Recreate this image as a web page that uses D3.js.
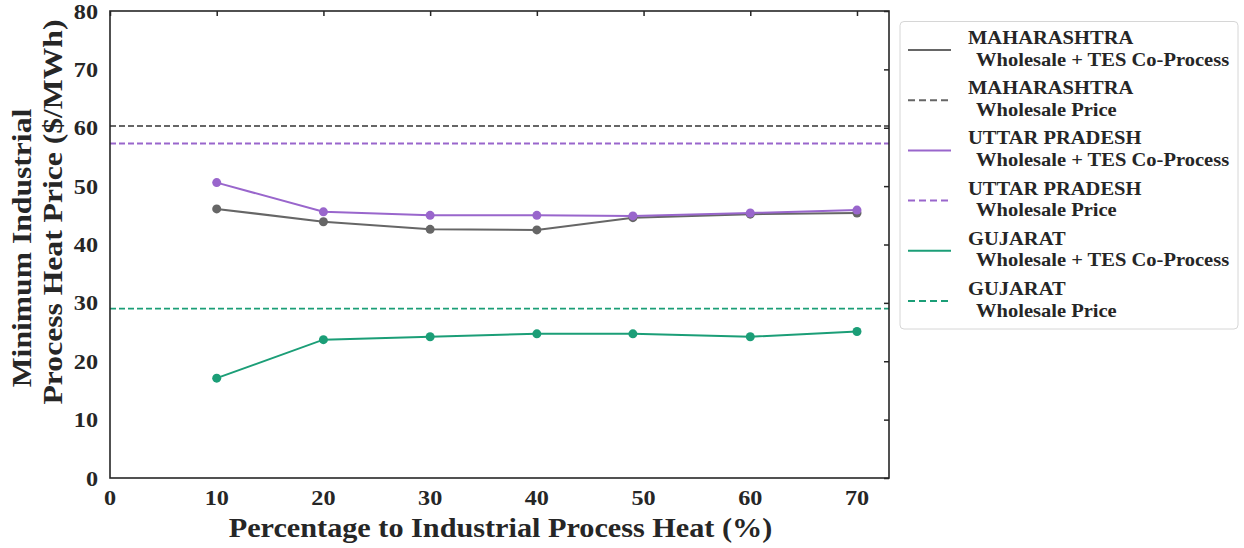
<!DOCTYPE html>
<html>
<head>
<meta charset="utf-8">
<script src="https://cdn.jsdelivr.net/npm/d3@7"></script>
<style>
  body { margin: 0; background: #fff; }
  svg text { font-family: "Liberation Serif", "Times New Roman", serif; font-weight: bold; fill: #262626; }
</style>
</head>
<body>
<div id="chart"></div>
<script>
const pct = [10, 20, 30, 40, 49, 60, 70];
const maharashtraCo = [46.1, 43.9, 42.6, 42.5, 44.6, 45.2, 45.4];
const uttarCo = [50.6, 45.6, 45.0, 45.0, 44.9, 45.4, 45.9];
const gujaratCo = [17.1, 23.7, 24.2, 24.7, 24.7, 24.2, 25.1];
const wholesale = [60.3, 57.3, 29.0]; // Maharashtra, Uttar Pradesh, Gujarat
const states = ["MAHARASHTRA", "UTTAR PRADESH", "GUJARAT"];
const colors = ["#666666", "#9966cc", "#1b9e77"];
const xTicks = [0, 10, 20, 30, 40, 50, 60, 70];
const yTicks = [0, 10, 20, 30, 40, 50, 60, 70, 80];

const width = 1244, height = 548;
const m = { left: 110, right: 889, top: 11, bottom: 478 };

const svg = d3.select("#chart").append("svg")
  .attr("width", width).attr("height", height);

const x = d3.scaleLinear().domain([0, 73]).range([m.left, m.right]);
const y = d3.scaleLinear().domain([0, 80]).range([m.bottom, m.top]);

// the reference font is a bit wider than Liberation Serif, stretch horizontally
function label(sel, tx, ty, sx, rot) {
  return sel.attr("transform", `translate(${tx},${ty})${rot ? " rotate(-90)" : ""} scale(${sx},1)`);
}

// inward ticks on top and right spines only
svg.append("g").attr("transform", `translate(0,${m.top})`)
  .call(d3.axisTop(x).tickValues(xTicks).tickSize(-5).tickFormat(""))
  .call(g => g.select(".domain").remove())
  .call(g => g.selectAll("line").attr("stroke", "#262626").attr("stroke-width", 1.5));
svg.append("g").attr("transform", `translate(${m.right},0)`)
  .call(d3.axisRight(y).tickValues(yTicks).tickSize(-5).tickFormat(""))
  .call(g => g.select(".domain").remove())
  .call(g => g.selectAll("line").attr("stroke", "#262626").attr("stroke-width", 1.5));

// tick labels
svg.append("g").selectAll("text").data(xTicks).join("text")
  .each(function (d) { label(d3.select(this), x(d), 505, 1.1); })
  .attr("text-anchor", "middle").attr("font-size", 22)
  .text(d => d);
svg.append("g").selectAll("text").data(yTicks).join("text")
  .each(function (d) { label(d3.select(this), 98, y(d) + 7.5, 1.1); })
  .attr("text-anchor", "end").attr("font-size", 22)
  .text(d => d);

// axis titles
label(svg.append("text"), (m.left + m.right) / 2 + 1, 537, 1.08)
  .attr("text-anchor", "middle").attr("font-size", 28)
  .text("Percentage to Industrial Process Heat (%)");
label(svg.append("text"), 31, 248, 1.13, true)
  .attr("text-anchor", "middle").attr("font-size", 28)
  .text("Minimum Industrial");
label(svg.append("text"), 62, 212, 1.13, true)
  .attr("text-anchor", "middle").attr("font-size", 28)
  .text("Process Heat Price ($/MWh)");

// wholesale dashed lines
svg.append("g").selectAll("line").data(wholesale).join("line")
  .attr("x1", m.left).attr("x2", m.right)
  .attr("y1", d => y(d)).attr("y2", d => y(d))
  .attr("stroke", (d, i) => colors[i]).attr("stroke-width", 1.8)
  .attr("stroke-dasharray", "6,3");

// co-process series
const series = [maharashtraCo, uttarCo, gujaratCo];
const line = d3.line().x((d, i) => x(pct[i])).y(d => y(d));
series.forEach((vals, s) => {
  const g = svg.append("g");
  g.append("path").datum(vals).attr("d", line)
    .attr("fill", "none").attr("stroke", colors[s]).attr("stroke-width", 2);
  g.selectAll("circle").data(vals).join("circle")
    .attr("cx", (d, i) => x(pct[i])).attr("cy", d => y(d)).attr("r", 4.5)
    .attr("fill", colors[s]);
});

// frame
svg.append("rect").attr("x", m.left).attr("y", m.top)
  .attr("width", m.right - m.left).attr("height", m.bottom - m.top)
  .attr("fill", "none").attr("stroke", "#262626").attr("stroke-width", 1.6);

// legend
const lg = svg.append("g");
lg.append("rect").attr("x", 900).attr("y", 21.5).attr("width", 338).attr("height", 307.5)
  .attr("rx", 4).attr("fill", "#fff").attr("stroke", "#d6d6d6").attr("stroke-width", 1);
const entries = [];
states.forEach((s, i) => {
  entries.push({ name: s, sub: "Wholesale + TES Co-Process", color: colors[i], dash: null });
  entries.push({ name: s, sub: "Wholesale Price", color: colors[i], dash: "7,4" });
});
entries.forEach((e, i) => {
  const cy = 50 + i * 50.2;
  lg.append("line").attr("x1", 908).attr("x2", 951).attr("y1", cy).attr("y2", cy)
    .attr("stroke", e.color).attr("stroke-width", 2).attr("stroke-dasharray", e.dash);
  label(lg.append("text"), 968, cy - 6, 1.14).attr("font-size", 18).text(e.name);
  label(lg.append("text"), 976, cy + 15.5, 1.14).attr("font-size", 18).text(e.sub);
});
</script>
</body>
</html>
